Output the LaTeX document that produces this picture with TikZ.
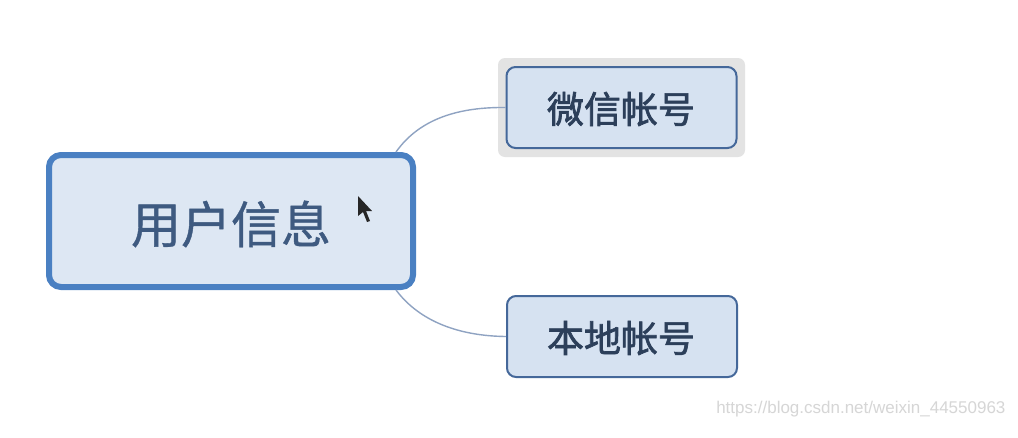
\documentclass[tikz,border=0pt]{standalone}
\usepackage{fontspec}
\newfontfamily\cjkmain[FakeBold=0.8]{Noto Sans CJK SC}
\newfontfamily\cjkchild[FakeBold=1.8]{Noto Sans CJK SC}
\setmainfont{Liberation Sans}
\definecolor{mainfill}{HTML}{DDE7F3}
\definecolor{mainborder}{HTML}{4A80C2}
\definecolor{childfill}{HTML}{D6E2F1}
\definecolor{childborder}{HTML}{45689A}
\definecolor{halo}{HTML}{E3E3E3}
\definecolor{linkcol}{HTML}{8FA3C2}
\definecolor{maintext}{HTML}{3E5A80}
\definecolor{childtext}{HTML}{2C3F5A}
\definecolor{wm}{HTML}{D6D6D6}
\begin{document}
\begin{tikzpicture}[x=1pt,y=-1pt,
  mainbox/.style={draw=mainborder,line width=6pt,fill=mainfill,rounded corners=12pt,
    minimum width=364pt,minimum height=132pt,inner sep=0pt},
  childbox/.style={draw=childborder,line width=2pt,fill=childfill,rounded corners=9pt,
    minimum width=230pt,minimum height=81pt,inner sep=0pt},
  maintxt/.style={text=maintext,font=\cjkmain\fontsize{50}{52}\selectfont},
  childtxt/.style={text=childtext,font=\cjkchild\fontsize{37}{39}\selectfont},
  link/.style={draw=linkcol,line width=1.4pt}]
\useasboundingbox (0,0) rectangle (1018,437);
\fill[white] (0,0) rectangle (1018,437);
% selection halo
\fill[halo,rounded corners=7pt] (498,58) rectangle (745,157);
\node[mainbox] (main) at (231,221) {};
\node[maintxt] (mt) at (231,224) {用户信息};
\node[childbox] (c1) at (621.5,107.5) {};
\node[childtxt] (c1t) at (621,109) {微信帐号};
\node[childbox] (c2) at (622,336.5) {};
\node[childtxt] (c2t) at (621,338) {本地帐号};
\coordinate (m1) at (396,152);
\coordinate (m2) at (396,290);
\draw[link] (m1) .. controls (420,118) and (460,107) .. (c1.west);
\draw[link] (m2) .. controls (420,322) and (460,336) .. (c2.west);
% mouse cursor
\fill[black!85] (358,196) -- (358,216) -- (363,212) -- (367,222) -- (370,221) -- (366,211) -- (372,211) -- cycle;
\node[text=wm,font=\fontsize{17}{19}\selectfont,anchor=east] (wmk) at (1009,409) {https://blog.csdn.net/weixin\_44550963};
\end{tikzpicture}
\end{document}
